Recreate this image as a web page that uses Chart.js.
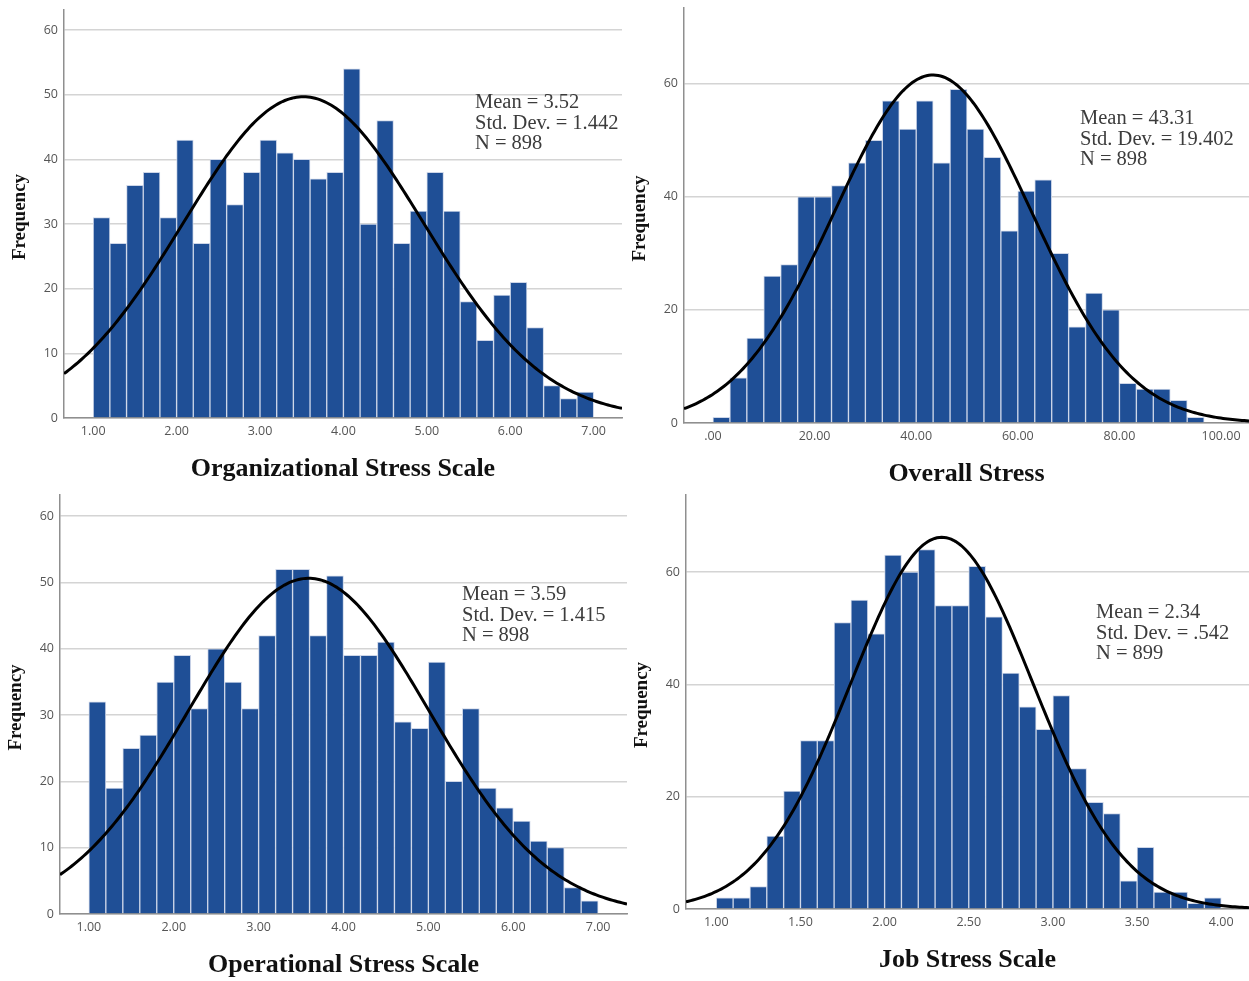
<!DOCTYPE html>
<html>
<head>
<meta charset="utf-8">
<title>Stress scale histograms</title>
<script src="https://cdn.jsdelivr.net/npm/chart.js@4.4.1/dist/chart.umd.min.js"></script>
<style>
  html, body { margin: 0; padding: 0; background: #ffffff; }
  body { width: 1249px; height: 981px; position: relative; overflow: hidden; }
  .panel { position: absolute; }
  .panel canvas { display: block; }
</style>
</head>
<body>
<div class="panel" style="left:0px;top:0px;"><canvas id="orgChart" width="640" height="490"></canvas></div>
<div class="panel" style="left:630px;top:0px;"><canvas id="overallChart" width="619" height="490"></canvas></div>
<div class="panel" style="left:0px;top:490px;"><canvas id="operChart" width="640" height="491"></canvas></div>
<div class="panel" style="left:630px;top:490px;"><canvas id="jobChart" width="619" height="491"></canvas></div>

<script>
// ---- Histogram counts (frequency per bin) ----
const orgCounts     = [31, 27, 36, 38, 31, 43, 27, 40, 33, 38, 43, 41, 40, 37, 38, 54, 30, 46, 27, 32, 38, 32, 18, 12, 19, 21, 14, 5, 3, 4];
const overallCounts = [1, 8, 15, 26, 28, 40, 40, 42, 46, 50, 57, 52, 57, 46, 59, 52, 47, 34, 41, 43, 30, 17, 23, 20, 7, 6, 6, 4, 1];
const operCounts    = [32, 19, 25, 27, 35, 39, 31, 40, 35, 31, 42, 52, 52, 42, 51, 39, 39, 41, 29, 28, 38, 20, 31, 19, 16, 14, 11, 10, 4, 2];
const jobCounts     = [2, 2, 4, 13, 21, 30, 30, 51, 55, 49, 63, 60, 64, 54, 54, 61, 52, 42, 36, 32, 38, 25, 19, 17, 5, 11, 3, 3, 1, 2];

// ---- Bin layout: first bin's lower edge and bin width ----
const orgBins     = [1.0, 0.2];
const overallBins = [0.0, 100 / 30];
const operBins    = [1.0, 0.2];
const jobBins     = [1.0, 0.1];

// ---- Descriptive statistics shown on each panel ----
const orgStats     = { mean: 3.52,  sd: 1.442,  n: 898, meanText: '3.52',  sdText: '1.442' };
const overallStats = { mean: 43.31, sd: 19.402, n: 898, meanText: '43.31', sdText: '19.402' };
const operStats    = { mean: 3.59,  sd: 1.415,  n: 898, meanText: '3.59',  sdText: '1.415' };
const jobStats     = { mean: 2.34,  sd: 0.542,  n: 899, meanText: '2.34',  sdText: '.542' };

// ---- Axis ticks and labels ----
const orgXTicks      = [1, 2, 3, 4, 5, 6, 7];
const orgXLabels     = ['1.00', '2.00', '3.00', '4.00', '5.00', '6.00', '7.00'];
const overallXTicks  = [0, 20, 40, 60, 80, 100];
const overallXLabels = ['.00', '20.00', '40.00', '60.00', '80.00', '100.00'];
const operXTicks     = [1, 2, 3, 4, 5, 6, 7];
const operXLabels    = ['1.00', '2.00', '3.00', '4.00', '5.00', '6.00', '7.00'];
const jobXTicks      = [1, 1.5, 2, 2.5, 3, 3.5, 4];
const jobXLabels     = ['1.00', '1.50', '2.00', '2.50', '3.00', '3.50', '4.00'];
const yTicksBy10     = [0, 10, 20, 30, 40, 50, 60];
const yTicksBy20     = [0, 20, 40, 60];

// ---- Titles ----
const orgTitle     = 'Organizational Stress Scale';
const overallTitle = 'Overall Stress';
const operTitle    = 'Operational Stress Scale';
const jobTitle     = 'Job Stress Scale';
const yTitle       = 'Frequency';

const BAR_BLUE = 'rgb(31, 79, 150)';

// Titles, the rotated y label and the statistics box
const panelTextPlugin = {
  id: 'panelText',
  afterDraw(chart, args, opts) {
    const { ctx, chartArea } = chart;
    ctx.save();
    ctx.fillStyle = '#111111';
    ctx.textAlign = 'center';
    ctx.textBaseline = 'middle';
    ctx.font = 'bold 26px "Liberation Serif", "Times New Roman", serif';
    ctx.fillText(opts.title, (chartArea.left + chartArea.right) / 2, chartArea.bottom + 51);

    ctx.save();
    ctx.translate(chartArea.left - 44, (chartArea.top + chartArea.bottom) / 2 + 3);
    ctx.rotate(-Math.PI / 2);
    ctx.font = 'bold 19px "Liberation Serif", "Times New Roman", serif';
    ctx.fillText(opts.yTitle, 0, 0);
    ctx.restore();

    ctx.textAlign = 'left';
    ctx.fillStyle = '#3c3c3c';
    ctx.font = '20.5px "Liberation Serif", "Times New Roman", serif';
    const s = opts.stats;
    const lines = ['Mean = ' + s.meanText, 'Std. Dev. = ' + s.sdText, 'N = ' + s.n];
    lines.forEach((t, i) => {
      ctx.fillText(t, chartArea.left + opts.statsDx, chartArea.top + opts.statsDy + i * 20.5);
    });
    ctx.restore();
  }
};

function makeHistogram(canvasId, cfg) {
  const [binStart, binWidth] = cfg.bins;
  const bars = cfg.counts.map((c, i) => ({ x: binStart + binWidth * (i + 0.5), y: c }));

  // Fitted normal curve scaled to counts: N * binWidth * pdf(x)
  const st = cfg.stats;
  const peak = st.n * binWidth / (st.sd * Math.sqrt(2 * Math.PI));
  const curve = [];
  const steps = 240;
  for (let k = 0; k <= steps; k++) {
    const x = cfg.xMin + (cfg.xMax - cfg.xMin) * k / steps;
    const z = (x - st.mean) / st.sd;
    curve.push({ x: x, y: peak * Math.exp(-0.5 * z * z) });
  }

  return new Chart(document.getElementById(canvasId), {
    type: 'bar',
    data: {
      datasets: [
        {
          type: 'line',
          data: curve,
          borderColor: '#000000',
          borderWidth: 3,
          pointRadius: 0,
          tension: 0,
          fill: false,
          order: 0
        },
        {
          type: 'bar',
          data: bars,
          backgroundColor: BAR_BLUE,
          borderColor: 'rgba(205, 214, 232, 1)',
          borderWidth: 1,
          borderSkipped: 'bottom',
          barPercentage: 1,
          categoryPercentage: 1,
          order: 1
        }
      ]
    },
    options: {
      responsive: false,
      animation: false,
      events: [],
      layout: { padding: { top: cfg.padTop, right: cfg.padRight, left: 0, bottom: 0 } },
      plugins: {
        legend: { display: false },
        tooltip: { enabled: false },
        panelText: {
          title: cfg.title,
          yTitle: yTitle,
          stats: st,
          statsDx: cfg.statsDx,
          statsDy: cfg.statsDy
        }
      },
      scales: {
        x: {
          type: 'linear',
          min: cfg.xMin,
          max: cfg.xMax,
          offset: false,
          grid: { display: false, drawTicks: false },
          border: { display: true, color: '#8f8f8f', width: 1.5 },
          afterBuildTicks(scale) { scale.ticks = cfg.xTicks.map(v => ({ value: v })); },
          afterFit(scale) {
            scale.height = cfg.xAxisHeight;
            scale.paddingLeft = 0;
            scale.paddingRight = 0;
          },
          ticks: {
            autoSkip: false,
            maxRotation: 0,
            minRotation: 0,
            padding: 6,
            color: '#555555',
            font: { family: '"Open Sans", "DejaVu Sans", sans-serif', size: 12.5 },
            callback(value) {
              const i = cfg.xTicks.indexOf(value);
              return i >= 0 ? cfg.xLabels[i] : '';
            }
          }
        },
        y: {
          type: 'linear',
          min: 0,
          max: cfg.yMax,
          grid: { color: 'rgb(212, 212, 212)', lineWidth: 1.5, drawTicks: false },
          border: { display: true, color: '#8f8f8f', width: 1.5 },
          afterBuildTicks(scale) { scale.ticks = cfg.yTicks.map(v => ({ value: v })); },
          afterFit(scale) {
            scale.width = cfg.yAxisWidth;
            scale.paddingTop = 0;
            scale.paddingBottom = 0;
          },
          ticks: {
            padding: 6,
            color: '#555555',
            font: { family: '"Open Sans", "DejaVu Sans", sans-serif', size: 12.5 },
            callback(value) { return String(value); }
          }
        }
      }
    },
    plugins: [panelTextPlugin]
  });
}

makeHistogram('orgChart', {
  counts: orgCounts, bins: orgBins, stats: orgStats, title: orgTitle,
  xTicks: orgXTicks, xLabels: orgXLabels, yTicks: yTicksBy10,
  xMin: 0.65, xMax: 7.34, yMax: 63.1,
  padTop: 10, padRight: 18, yAxisWidth: 64, xAxisHeight: 72,
  statsDx: 411, statsDy: 93
});

makeHistogram('overallChart', {
  counts: overallCounts, bins: overallBins, stats: overallStats, title: overallTitle,
  xTicks: overallXTicks, xLabels: overallXLabels, yTicks: yTicksBy20,
  xMin: -5.7, xMax: 105.5, yMax: 73.4,
  padTop: 8, padRight: 0, yAxisWidth: 54, xAxisHeight: 67,
  statsDx: 396, statsDy: 111
});

makeHistogram('operChart', {
  counts: operCounts, bins: operBins, stats: operStats, title: operTitle,
  xTicks: operXTicks, xLabels: operXLabels, yTicks: yTicksBy10,
  xMin: 0.66, xMax: 7.34, yMax: 63.2,
  padTop: 5, padRight: 13, yAxisWidth: 60, xAxisHeight: 67,
  statsDx: 402, statsDy: 100
});

makeHistogram('jobChart', {
  counts: jobCounts, bins: jobBins, stats: jobStats, title: jobTitle,
  xTicks: jobXTicks, xLabels: jobXLabels, yTicks: yTicksBy20,
  xMin: 0.82, xMax: 4.165, yMax: 73.7,
  padTop: 5, padRight: 0, yAxisWidth: 56, xAxisHeight: 72,
  statsDx: 410, statsDy: 118
});
</script>
</body>
</html>
